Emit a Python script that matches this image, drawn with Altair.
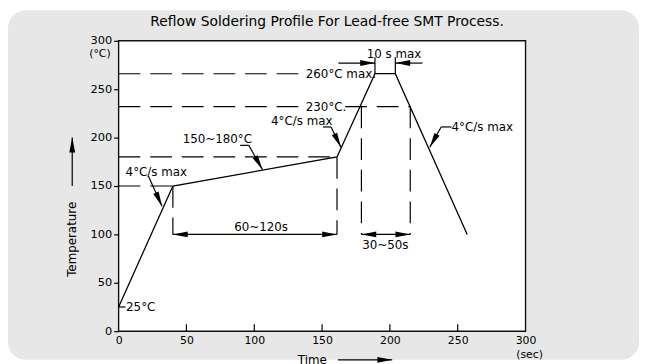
import math
import altair as alt
import pandas as pd

FONT = "DejaVu Sans"
W, H = 412, 294
XMAX, YMAX = 300, 300
PX_X = W / XMAX
PX_Y = H / YMAX

# ---------------- data ----------------
profile_time = [0, 40, 161, 189, 204, 257]
profile_temp = [25, 150, 180, 266, 266, 100]

x_ticks = [0, 50, 100, 150, 200, 250, 300]
y_ticks = [0, 50, 100, 150, 200, 250, 300]
inner_x_ticks = [50, 100, 150, 200, 250]

# dashed guide segments
dash_x1 = [0, 0, 167, 0, 0, 40, 161, 179, 215]
dash_y1 = [266, 232, 232, 180, 150, 150, 180, 232, 232]
dash_x2 = [137, 137, 215, 161, 40, 40, 161, 179, 215]
dash_y2 = [266, 232, 232, 180, 150, 100, 100, 100, 100]

# solid dimension / leader segments
line_x1 = [40, 179, 162, 204, 189, 204, 22, 89.6, 96, 150.6, 156.6, 245.4, 237.8, 0, -34.2, 161.7]
line_y1 = [100, 100, 277, 277, 266, 266, 160, 192, 192, 211, 211, 211, 211, 25, 150, -29.6]
line_x2 = [161, 215, 189, 224, 189, 204, 32, 96, 106, 156.6, 163.9, 237.8, 229.4, 5, -34.2, 201.7]
line_y2 = [100, 100, 277, 277, 283, 283, 129, 192, 167, 211, 190, 211, 190, 25, 200, -29.6]

# arrowheads: tip and tail point of the shaft
head_x = [40, 161, 179, 215, 189, 204, 32, 106, 163.9, 229.4, -34.2, 201.7]
head_y = [100, 100, 100, 100, 277, 277, 129, 167, 190, 190, 200, -29.6]
tail_x = [161, 40, 215, 179, 162, 224, 22, 96, 156.6, 237.8, -34.2, 161.7]
tail_y = [100, 100, 100, 100, 277, 277, 160, 192, 211, 211, 150, -29.6]

# centered labels
c_text = ["Reflow Soldering Profile For Lead-free SMT Process.", "10 s max", "4°C/s max",
          "150~180°C", "4°C/s max", "60~120s", "30~50s", "(°C)", "(sec)", "Time"]
c_x = [153.7, 203, 27.8, 72.8, 135, 105, 196.6, -13.8, 303, 142.8]
c_y = [319.4, 286, 164, 198, 217, 108, 89, 286, -24.5, -29.5]
c_size = [14, 12, 12, 12, 12, 12, 12, 11, 11, 12]

# left-aligned labels
l_text = ["260°C max.", "230°C.", "4°C/s max", "25°C"]
l_x = [138, 138, 245.4, 5.5]
l_y = [266, 232, 211, 25]

# rotated axis label
r_text = ["Temperature"]
r_x = [-34.2]
r_y = [94.9]

# ---------------- helpers ----------------
xs = alt.Scale(domain=[0, XMAX], nice=False, zero=False)
ys = alt.Scale(domain=[0, YMAX], nice=False, zero=False)
xaxis = alt.Axis(values=x_ticks, title=None, tickSize=0, domain=False, grid=False,
                 labelFontSize=11, labelPadding=3, labelColor="black", labelFont=FONT,
                 zindex=1, labelFlush=False, labelOverlap=False)
yaxis = alt.Axis(values=y_ticks, title=None, tickSize=5, tickColor="black", tickWidth=1.2,
                 domain=False, grid=False, labelFontSize=11.5, labelPadding=2,
                 labelColor="black", labelFont=FONT, zindex=1, labelFlush=False,
                 labelOverlap=False)


def X(f):
    return alt.X(f, type="quantitative", scale=xs, axis=xaxis)


def Y(f):
    return alt.Y(f, type="quantitative", scale=ys, axis=yaxis)


one = pd.DataFrame({"a": [0]})

bg = alt.Chart(one).mark_rect(cornerRadius=18, color="#e6e7e6").encode(
    x=alt.value(-112), x2=alt.value(W + 115), y=alt.value(-31), y2=alt.value(H + 29))

frame = alt.Chart(one).mark_rect(fill="white", stroke="#111111", strokeWidth=1.4).encode(
    x=alt.value(0), x2=alt.value(W), y=alt.value(0), y2=alt.value(H))

ticks = alt.Chart(pd.DataFrame({"x": inner_x_ticks})).mark_rule(
    color="black", strokeWidth=1.2).encode(x=X("x"), y=alt.value(H), y2=alt.value(H - 7))

dash_df = pd.DataFrame({"x": dash_x1, "y": dash_y1, "x2": dash_x2, "y2": dash_y2})
dashes = alt.Chart(dash_df).mark_rule(color="black", strokeWidth=1.2, strokeDash=[22, 10]).encode(
    x=X("x"), y=Y("y"), x2="x2:Q", y2="y2:Q")

line_df = pd.DataFrame({"x": line_x1, "y": line_y1, "x2": line_x2, "y2": line_y2})
lines = alt.Chart(line_df).mark_rule(color="black", strokeWidth=1.2).encode(
    x=X("x"), y=Y("y"), x2="x2:Q", y2="y2:Q")

prof_df = pd.DataFrame({"x": profile_time, "y": profile_temp, "i": range(len(profile_time))})
profile = alt.Chart(prof_df).mark_line(color="black", strokeWidth=1.3).encode(
    x=X("x"), y=Y("y"), order="i:Q")

angles = []
for hx, hy, tx, ty in zip(head_x, head_y, tail_x, tail_y):
    dx = (hx - tx) * PX_X
    dy = -(hy - ty) * PX_Y
    angles.append(math.degrees(math.atan2(dx, -dy)) % 360)
head_df = pd.DataFrame({"x": head_x, "y": head_y, "angle": angles})
heads = alt.Chart(head_df).mark_point(
    shape="M0,0L-0.2,1L0.2,1Z", filled=True, size=900, color="black", opacity=1, strokeWidth=0
).encode(x=X("x"), y=Y("y"), angle=alt.Angle("angle:Q", scale=None))

ctext_df = pd.DataFrame({"x": c_x, "y": c_y, "t": c_text, "s": c_size})
ctext = alt.Chart(ctext_df).mark_text(font=FONT, color="black", align="center", baseline="middle").encode(
    x=X("x"), y=Y("y"), text="t:N", size=alt.Size("s:Q", scale=None))

ltext_df = pd.DataFrame({"x": l_x, "y": l_y, "t": l_text})
ltext = alt.Chart(ltext_df).mark_text(font=FONT, fontSize=12, color="black", align="left",
                                       baseline="middle").encode(x=X("x"), y=Y("y"), text="t:N")

rtext_df = pd.DataFrame({"x": r_x, "y": r_y, "t": r_text})
rtext = alt.Chart(rtext_df).mark_text(font=FONT, fontSize=12, color="black", align="center",
                                       baseline="middle", angle=270).encode(
    x=X("x"), y=Y("y"), text="t:N")

chart = alt.layer(bg, frame, ticks, dashes, lines, profile, heads, ctext, ltext, rtext).properties(
    width=W, height=H,
    autosize=alt.AutoSizeParams(type="none"),
    padding={"left": 112, "top": 31, "right": 125, "bottom": 31},
).configure_view(strokeWidth=0).configure(background="white")

chart.save("out.html", embed_options={"renderer": "svg", "actions": False})
